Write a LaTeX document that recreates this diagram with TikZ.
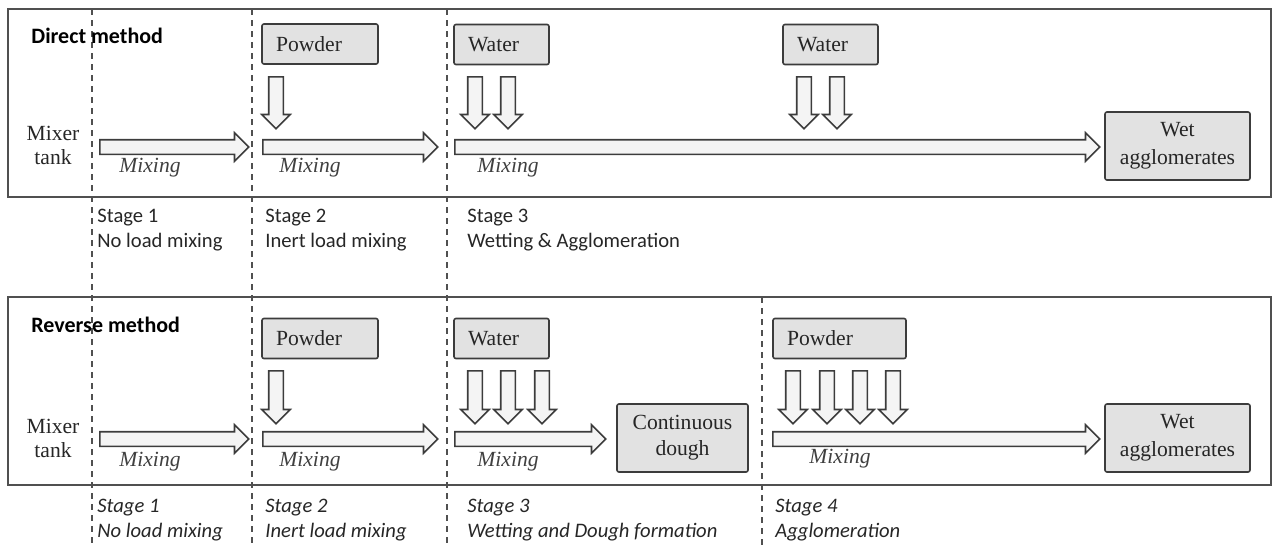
\documentclass[tikz,border=0pt]{standalone}
\usepackage{fontspec}
\setmainfont{Liberation Serif}
\setsansfont{Carlito}
\usetikzlibrary{shapes.arrows, positioning}
\definecolor{boxgray}{RGB}{226, 226, 226}
\definecolor{edgegray}{RGB}{60, 60, 60}
\definecolor{arrowfill}{RGB}{244, 244, 244}
\definecolor{framegray}{RGB}{80, 80, 80}
\tikzset{
    feedbox/.style={
        rectangle, rounded corners=1pt, draw=edgegray, fill=boxgray, line width=0.8pt,
        font=\fontsize{10.8pt}{13pt}\selectfont, text=black!85, align=left,
        minimum height=20pt, inner xsep=7pt, inner ysep=0pt
    },
    productbox/.style={
        rectangle, rounded corners=1pt, draw=edgegray, fill=boxgray, line width=0.8pt,
        font=\fontsize{10.8pt}{13pt}\selectfont, text=black!85, align=center,
        minimum height=34pt, inner sep=0pt
    },
    mixarrow/.style={
        single arrow, draw=edgegray, fill=arrowfill, line width=0.8pt, anchor=tail,
        minimum width=0pt, single arrow head extend=3.5pt, inner sep=3.25pt
    },
    droparrow/.style={mixarrow, shape border rotate=270, minimum height=26pt},
    mixlabel/.style={font=\fontsize{10.8pt}{13pt}\selectfont\itshape, text=black!75},
    stagelabel/.style={font=\fontsize{10.3pt}{12.5pt}\selectfont\sffamily, text=black!85,
        align=left, anchor=west, inner sep=0pt},
    stageitlabel/.style={stagelabel, font=\fontsize{10.3pt}{12.5pt}\selectfont\sffamily\itshape},
    methodlabel/.style={font=\fontsize{11pt}{13pt}\selectfont\sffamily\bfseries, anchor=west, inner sep=0pt},
    tanklabel/.style={font=\fontsize{10.8pt}{12pt}\selectfont, align=center, text=black!85},
    stageline/.style={draw=framegray, line width=0.6pt, dash pattern=on 3pt off 2.5pt},
    frame/.style={draw=framegray, line width=1pt}
}
\begin{document}
\begin{tikzpicture}[x=0.5pt, y=-0.5pt]
    \useasboundingbox (0,0) rectangle (1275,547);

    % Frames
    \draw[frame] (8,9) rectangle (1271,197);
    \draw[frame] (8,297) rectangle (1271,485);

    % Stage borders
    \draw[stageline] (92,9) -- (92,547);
    \draw[stageline] (252,9) -- (252,547);
    \draw[stageline] (447,9) -- (447,547);
    \draw[stageline] (762,297) -- (762,547);

    % Direct method
    \node[methodlabel] (direct) at (31,36) {Direct method};
    \node[tanklabel] (tankA) at (53,145) {Mixer\\tank};
    \node[feedbox, text width=44pt] (powderA) at (320,44) {Powder};
    \node[feedbox, text width=33.5pt] (waterA) at (501.5,44.5) {Water};
    \node[feedbox, text width=33.5pt] (waterB) at (830.5,44.5) {Water};
    \node[productbox, minimum width=72.5pt] (wetA) at (1177.5,146) {Wet\\[1pt]agglomerates};

    \node[mixarrow, minimum height=74.5pt] (mixA1) at (99,147) {};
    \node[mixarrow, minimum height=87.5pt] (mixA2) at (262,147) {};
    \node[mixarrow, minimum height=322.5pt] (mixA3) at (454,147) {};
    \foreach \x/\n in {276/pA, 475/wA1, 508/wA2, 804/wB1, 837/wB2}
        \node[droparrow] (drop\n) at (\x,76) {};

    \node[mixlabel] (mixtxtA1) at (150,168) {Mixing};
    \node[mixlabel] (mixtxtA2) at (310,168) {Mixing};
    \node[mixlabel] (mixtxtA3) at (508,168) {Mixing};

    \node[stagelabel] (stageA1) at (97,230.5) {Stage 1\\No load mixing};
    \node[stagelabel] (stageA2) at (265,230.5) {Stage 2\\Inert load mixing};
    \node[stagelabel] (stageA3) at (467,230.5) {Stage 3\\Wetting \& Agglomeration};

    % Reverse method
    \node[methodlabel] (reverse) at (31,325) {Reverse method};
    \node[tanklabel] (tankB) at (53,438) {Mixer\\tank};
    \node[feedbox, text width=44pt] (powderC) at (320,338.5) {Powder};
    \node[feedbox, text width=33.5pt] (waterC) at (501.5,338.5) {Water};
    \node[feedbox, text width=52.5pt] (powderD) at (839.5,338.5) {Powder};
    \node[productbox, minimum width=65.5pt] (doughC) at (682.5,438) {Continuous\\dough};
    \node[productbox, minimum width=72.5pt] (wetB) at (1177.5,438) {Wet\\[1pt]agglomerates};

    \node[mixarrow, minimum height=74.5pt] (mixB1) at (99,439) {};
    \node[mixarrow, minimum height=87.5pt] (mixB2) at (262,439) {};
    \node[mixarrow, minimum height=75.5pt] (mixB3) at (454,439) {};
    \node[mixarrow, minimum height=163.5pt] (mixB4) at (772,439) {};
    \foreach \x/\n in {276/pC, 475/wC1, 508/wC2, 542/wC3, 793/pD1, 827/pD2, 860/pD3, 893/pD4}
        \node[droparrow, minimum height=26.5pt] (drop\n) at (\x,370) {};

    \node[mixlabel] (mixtxtB1) at (150,462) {Mixing};
    \node[mixlabel] (mixtxtB2) at (310,462) {Mixing};
    \node[mixlabel] (mixtxtB3) at (508,462) {Mixing};
    \node[mixlabel] (mixtxtB4) at (840,459) {Mixing};

    \node[stageitlabel] (stageB1) at (97,520) {Stage 1\\No load mixing};
    \node[stageitlabel] (stageB2) at (265,520) {Stage 2\\Inert load mixing};
    \node[stageitlabel] (stageB3) at (467,520) {Stage 3\\Wetting and Dough formation};
    \node[stageitlabel] (stageB4) at (775,520) {Stage 4\\Agglomeration};
\end{tikzpicture}
\end{document}
